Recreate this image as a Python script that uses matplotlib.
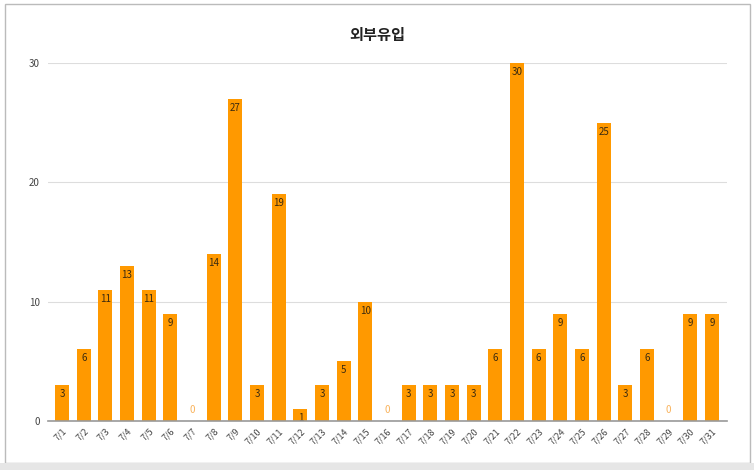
import numpy as np
import matplotlib.pyplot as plt
from matplotlib.patches import Rectangle

plt.rcParams['font.family'] = ['Noto Sans CJK KR', 'DejaVu Sans']

# 데이터
dates = [f"7/{d}" for d in range(1, 32)]
values = [3, 6, 11, 13, 11, 9, 0, 14, 27, 3, 19, 1, 3, 5, 10, 0,
          3, 3, 3, 3, 6, 30, 6, 9, 6, 25, 3, 6, 0, 9, 9]
yticks = [0, 10, 20, 30]

bar_color = '#ff9900'

fig = plt.figure(figsize=(7.54, 4.70), dpi=100)
ax = fig.add_axes([0.0637, 0.1043, 0.9003, 0.7617])

x = np.arange(len(values))
ax.bar(x, values, width=0.65, color=bar_color, zorder=3)

for xi, v in zip(x, values):
    if v == 0:
        ax.text(xi, 0.9, str(v), ha='center', va='center', fontsize=7,
                color='#f9b35c', zorder=4)
    else:
        ax.text(xi, v - 0.75, str(v), ha='center', va='center', fontsize=7,
                color='#3a2a10', zorder=4)

ax.set_xlim(-0.65, 30.69)
ax.set_ylim(0, 30)
ax.set_yticks(yticks)
ax.set_yticklabels([str(t) for t in yticks], fontsize=7, color='#444444')
ax.set_xticks(x)
ax.set_xticklabels(dates, rotation=45, ha='right', rotation_mode='anchor',
                   fontsize=6.5, color='#444444')
ax.tick_params(axis='both', length=0, pad=6)
ax.tick_params(axis='x', pad=4)
ax.grid(axis='y', color='#dddddd', linewidth=0.8, zorder=0)
for s in ['top', 'right', 'left']:
    ax.spines[s].set_visible(False)
ax.spines['bottom'].set_color('#999999')
ax.spines['bottom'].set_linewidth(1.2)
ax.spines['bottom'].set_zorder(5)

fig.text(0.5, 0.925, '외부유입', ha='center', va='center', fontsize=11,
         fontweight='bold', color='#222222')

# 스크린샷 테두리
fig.patches.append(Rectangle((0.007, 0.015), 0.988, 0.976, transform=fig.transFigure,
                             fill=False, edgecolor='#bbbbbb', linewidth=1.0))
fig.patches.append(Rectangle((0, 0), 1, 0.014, transform=fig.transFigure,
                             facecolor='#e6e6e6', edgecolor='none'))

fig.savefig('out.png', dpi=100)
